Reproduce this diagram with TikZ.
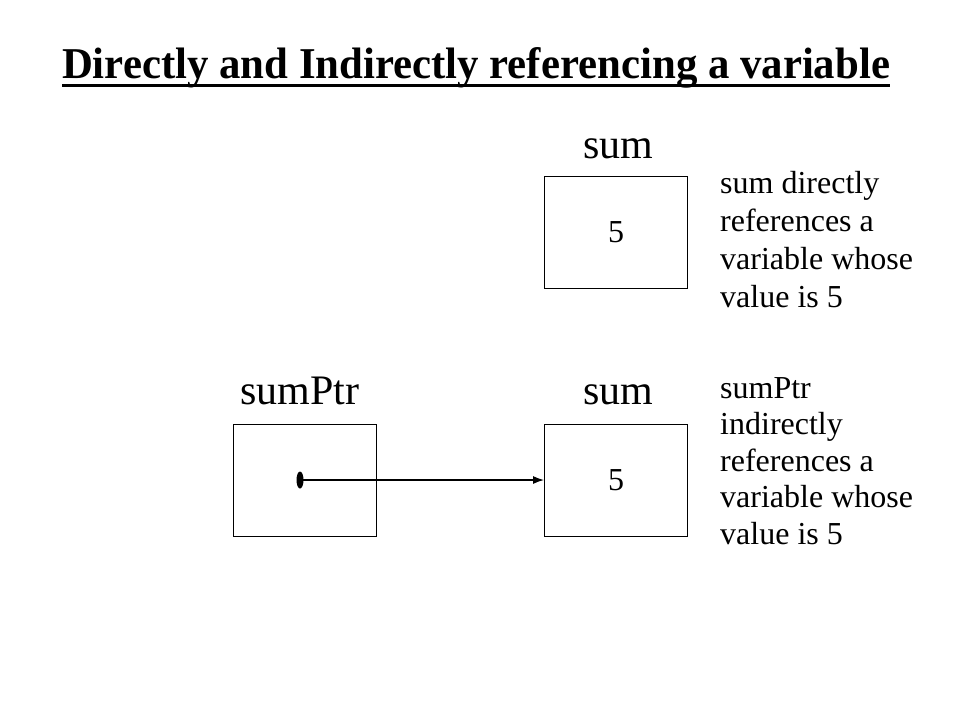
\documentclass[tikz,border=0pt]{standalone}
\usepackage{fontspec}
\setmainfont{Liberation Serif}
\usetikzlibrary{positioning,arrows.meta}

\begin{document}
\begin{tikzpicture}[x=1pt,y=-1pt,
memcell/.style={draw,line width=1pt,minimum width=143pt,minimum height=112pt,inner sep=0pt,font=\fontsize{32}{36}\selectfont},
varname/.style={font=\fontsize{42}{48}\selectfont,anchor=base,inner sep=0pt},
note/.style={font=\fontsize{32}{38}\selectfont,align=left,anchor=north west,inner sep=0pt}]
\useasboundingbox (0,0) rectangle (960,720);
%
\node[font=\bfseries\fontsize{44}{50}\selectfont,xscale=0.973,anchor=base,inner sep=0pt](title) at (476,78){Directly and Indirectly referencing a variable};
\draw[line width=3.5pt](62,85.5)--(890,85.5);
%
\node[memcell](top) at (616,232){5};
\node[varname](topname) at (618,158){sum};
\node[note](topnote) at (720,171){sum directly\\references a\\variable whose\\value is 5};
%
\node[memcell](ptr) at (304.5,480){};
\node[memcell](val) at (616,480){5};
\node[varname](ptrname) at (300,404){sumPtr};
\node[varname](valname) at (618,404){sum};
\node[note,font=\fontsize{32}{36.5}\selectfont](ptrnote) at (720,377){sumPtr\\indirectly\\references a\\variable whose\\value is 5};
%
\coordinate (dot) at (300,480);
\fill (dot) ellipse (3.5pt and 8.5pt);
\draw[line width=1.2pt,-{Latex[length=11pt,width=8pt]}](dot)--(val.west);
\end{tikzpicture}
\end{document}
